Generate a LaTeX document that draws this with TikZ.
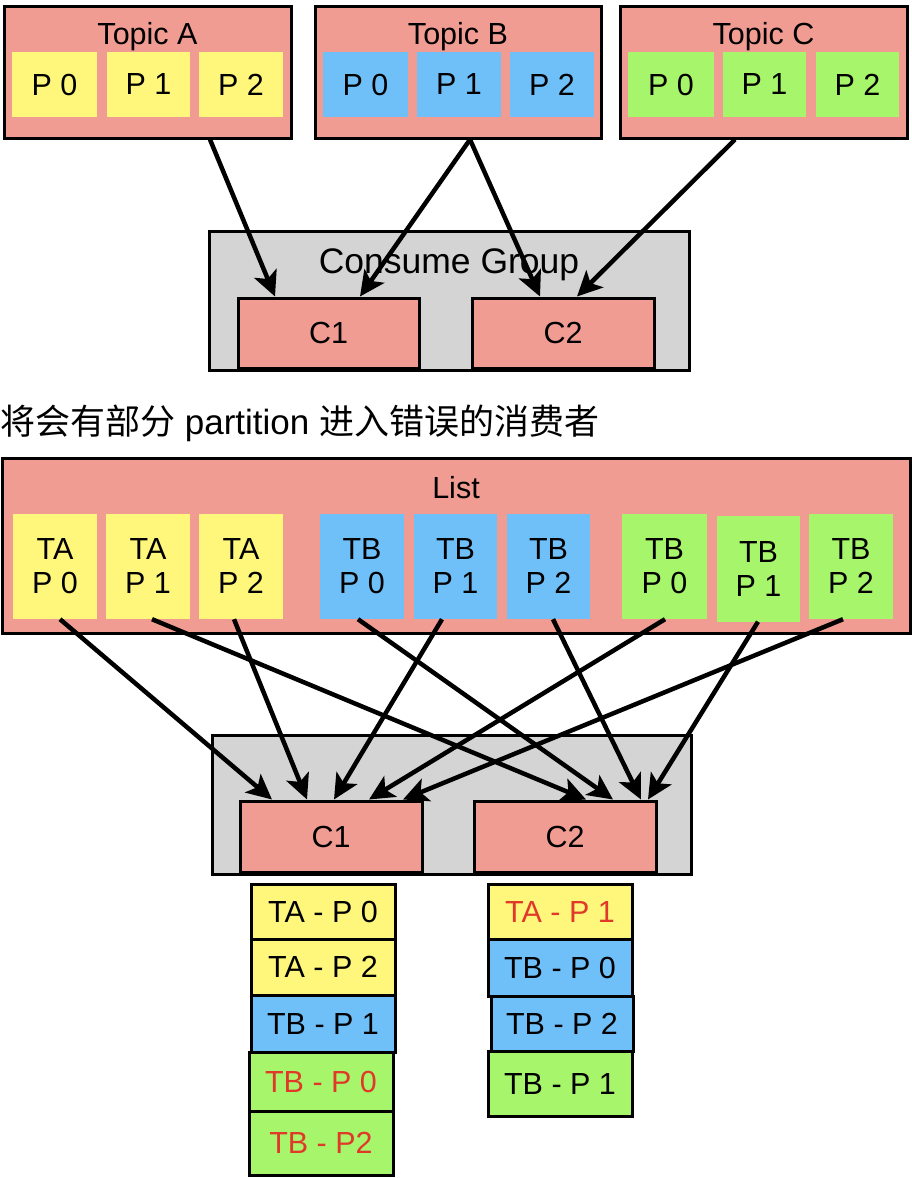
\documentclass[tikz,border=0pt]{standalone}
\usepackage{fontspec}
\setmainfont{Liberation Sans}
\newfontfamily\cjk{Noto Sans CJK SC}
\usetikzlibrary{arrows.meta}
\definecolor{salmon}{HTML}{F19C92}
\definecolor{ylw}{HTML}{FFF77B}
\definecolor{blu}{HTML}{6FBFF9}
\definecolor{grn}{HTML}{A6F56A}
\definecolor{gry}{HTML}{D4D4D4}
\definecolor{redt}{HTML}{E0392A}
\begin{document}
\begin{tikzpicture}[x=1pt,y=-1pt,
  sz/.style 2 args={minimum width=#1pt,minimum height=#2pt},
  lab/.style={inner sep=0pt,font=\fontsize{30.5}{34}\selectfont},
  big/.style={inner sep=0pt,font=\fontsize{35.5}{40}\selectfont},
  topic/.style={draw=black,line width=3pt,fill=salmon,inner sep=0pt,font=\fontsize{30.5}{34}\selectfont},
  grp/.style={draw=black,line width=3pt,fill=gry,inner sep=0pt},
  part/.style={inner sep=0pt,align=center,font=\fontsize{30.5}{34}\selectfont},
  stk/.style={draw=black,line width=3pt,inner sep=0pt,font=\fontsize{30.5}{34}\selectfont},
  arr/.style={line width=4.5pt,-{Stealth[length=25pt,width=24pt,inset=6pt]}}
]
\useasboundingbox[fill=white] (0,0) rectangle (912,1178);

% ---------- top part ----------
\node[topic,sz={287}{132}] (topA) at (147.5,72) {};
\node[lab] (topAt) at (147.5,37) {Topic A};
\node[part,fill=ylw,sz={85}{65}] (a0) at (54.5,84.5) {P 0};
\node[part,fill=ylw,sz={83}{65}] (a1) at (148.5,84.5) {P 1};
\node[part,fill=ylw,sz={84}{65}] (a2) at (241,84.5) {P 2};

\node[topic,sz={286}{132}] (topB) at (458,72) {};
\node[lab] (topBt) at (458,37) {Topic B};
\node[part,fill=blu,sz={85}{65}] (b0) at (365.5,84.5) {P 0};
\node[part,fill=blu,sz={84}{65}] (b1) at (459,84.5) {P 1};
\node[part,fill=blu,sz={84}{65}] (b2) at (552,84.5) {P 2};

\node[topic,sz={287}{132}] (topC) at (763.5,72) {};
\node[lab] (topCt) at (763.5,37) {Topic C};
\node[part,fill=grn,sz={86}{65}] (g0) at (671,84.5) {P 0};
\node[part,fill=grn,sz={83}{65}] (g1) at (764.5,84.5) {P 1};
\node[part,fill=grn,sz={83}{65}] (g2) at (857.5,84.5) {P 2};

\node[grp,sz={480}{139}] (cg) at (449,300.5) {};
\node[big] (cgt) at (449,265) {Consume Group};
\node[topic,sz={181}{70}] (c1) at (328.5,333) {C1};
\node[topic,sz={182}{70}] (c2) at (563,333) {C2};

\draw[arr] (topA.south -| 210,0) -- (c1.north -| 275,0);
\draw[arr] (topB.south -| 470,0) -- (c1.north -| 360,0);
\draw[arr] (topB.south -| 470,0) -- (c2.north -| 540,0);
\draw[arr] (topC.south -| 735,0) -- (c2.north -| 577,0);

% ---------- note ----------
\node[anchor=west,inner sep=0pt,font=\fontsize{35}{40}\selectfont] (note) at (0,423)
  {{\cjk 将会有部分} partition {\cjk 进入错误的消费者}};

% ---------- list ----------
\node[topic,sz={908}{175}] (list) at (456,545.5) {};
\node[lab] (listt) at (456,488) {List};
\node[part,fill=ylw,sz={84}{105}] (la0) at (55,566.5) {TA\\P 0};
\node[part,fill=ylw,sz={84}{105}] (la1) at (148,566.5) {TA\\P 1};
\node[part,fill=ylw,sz={84}{105}] (la2) at (241,566.5) {TA\\P 2};
\node[part,fill=blu,sz={84}{105}] (lb0) at (362,566.5) {TB\\P 0};
\node[part,fill=blu,sz={83}{105}] (lb1) at (455.5,566.5) {TB\\P 1};
\node[part,fill=blu,sz={83}{105}] (lb2) at (548.5,566.5) {TB\\P 2};
\node[part,fill=grn,sz={85}{105}] (lg0) at (664.5,566.5) {TB\\P 0};
\node[part,fill=grn,sz={83}{106}] (lg1) at (758.5,568.5) {TB\\P 1};
\node[part,fill=grn,sz={84}{105}] (lg2) at (851,566.5) {TB\\P 2};

% ---------- bottom group ----------
\node[grp,sz={479}{139}] (cg2) at (451.5,804.5) {};
\node[topic,sz={182}{71}] (d1) at (331,836.5) {C1};
\node[topic,sz={182}{71}] (d2) at (565,836.5) {C2};

\draw[arr] (la0.south -| 60,0) -- (d1.north -| 272,0);
\draw[arr] (la1.south -| 152,0) -- (d2.north -| 586,0);
\draw[arr] (la2.south -| 234,0) -- (d1.north -| 307,0);
\draw[arr] (lb0.south -| 358,0) -- (d2.north -| 613,0);
\draw[arr] (lb1.south -| 442,0) -- (d1.north -| 334,0);
\draw[arr] (lb2.south -| 553,0) -- (d2.north -| 641,0);
\draw[arr] (lg0.south -| 665,0) -- (d1.north -| 369,0);
\draw[arr] (lg1.south -| 758,0) -- (d2.north -| 648,0);
\draw[arr] (lg2.south -| 843,0) -- (d1.north -| 403,0);

% ---------- stacks ----------
\node[stk,fill=ylw,sz={144}{55}] (s1a) at (323,911.5) {TA - P 0};
\node[stk,fill=ylw,sz={144}{56}] (s1b) at (323,967) {TA - P 2};
\node[stk,fill=blu,sz={144}{57}] (s1c) at (323,1023.5) {TB - P 1};
\node[stk,fill=grn,sz={144}{59},text=redt] (s1d) at (321,1081.5) {TB - P 0};
\node[stk,fill=grn,sz={144}{64},text=redt] (s1e) at (321,1143) {TB - P2};

\node[stk,fill=ylw,sz={144}{55},text=redt] (s2a) at (560,911.5) {TA - P 1};
\node[stk,fill=blu,sz={144}{57}] (s2b) at (560,967.5) {TB - P 0};
\node[stk,fill=blu,sz={142}{55}] (s2c) at (562,1023.5) {TB - P 2};
\node[stk,fill=grn,sz={144}{65}] (s2d) at (560,1083.5) {TB - P 1};
\end{tikzpicture}
\end{document}
